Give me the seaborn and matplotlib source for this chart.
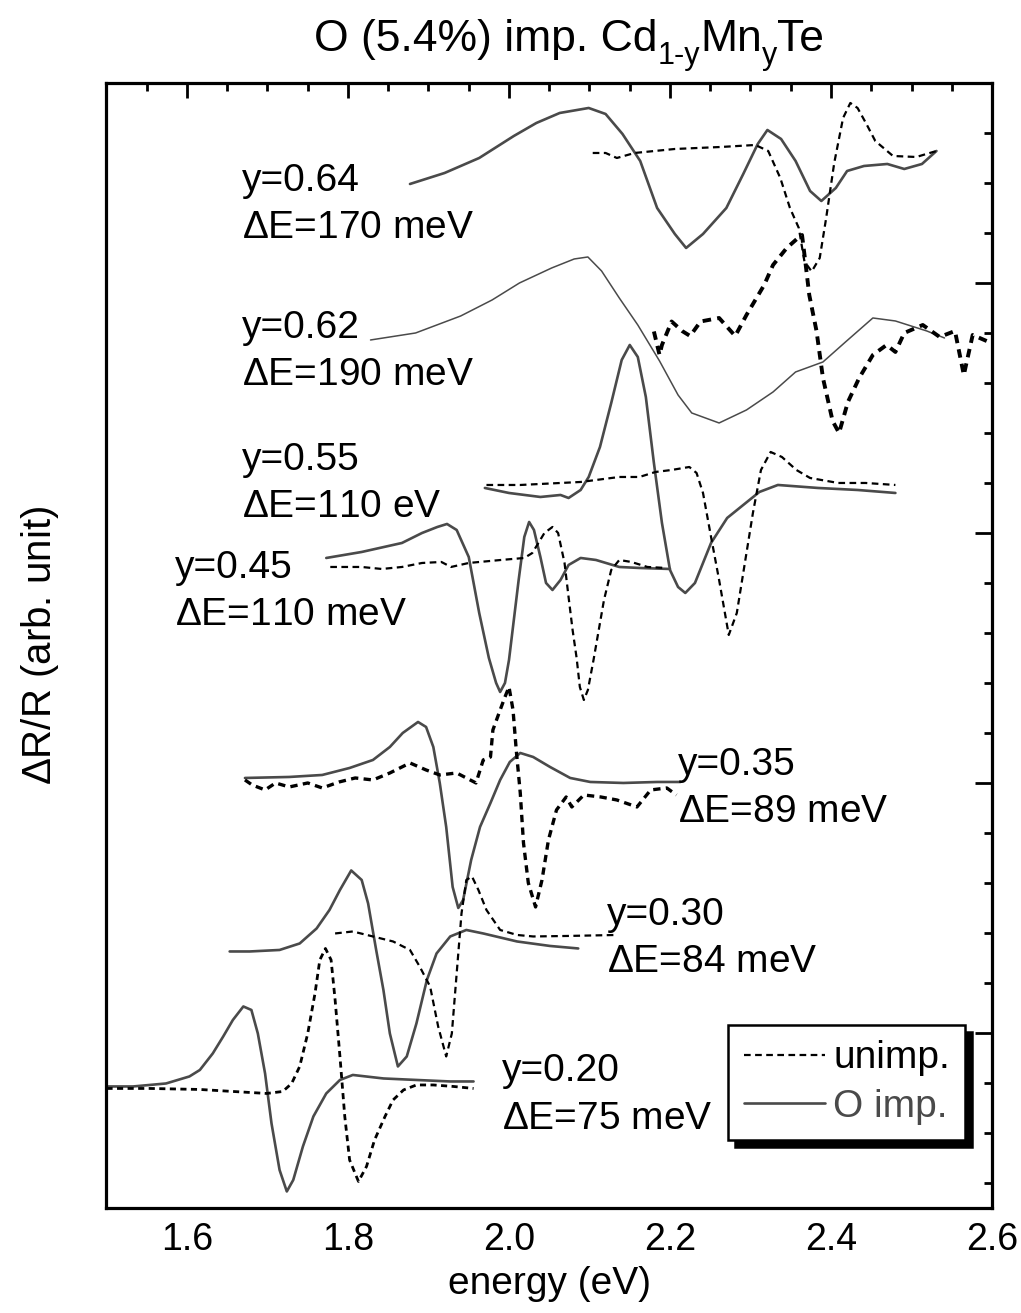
import numpy as np
import pandas as pd
import matplotlib
matplotlib.use("Agg")
import matplotlib.pyplot as plt
from matplotlib.lines import Line2D
from matplotlib.ticker import MultipleLocator
import seaborn as sns

# ---------------- data (energy in eV, signal in arb. units) ----------------
e_064_o = [1.877, 1.92, 1.963, 2.006, 2.034, 2.063, 2.099, 2.12, 2.141, 2.163, 2.184, 2.206, 2.22, 2.241,
           2.27, 2.291, 2.309, 2.321, 2.338, 2.356, 2.374, 2.388, 2.406, 2.42, 2.441, 2.47, 2.491, 2.513, 2.531]
s_064_o = [16.98, 17.2, 17.5, 17.94, 18.2, 18.4, 18.5, 18.38, 17.98, 17.44, 16.5, 15.98, 15.7, 15.98,
           16.5, 17.18, 17.78, 18.06, 17.88, 17.44, 16.84, 16.64, 16.9, 17.24, 17.34, 17.38, 17.28, 17.38, 17.64]
e_064_u = [2.104, 2.12, 2.134, 2.156, 2.206, 2.263, 2.306, 2.322, 2.337, 2.349, 2.36, 2.367, 2.376, 2.386,
           2.394, 2.404, 2.415, 2.424, 2.433, 2.444, 2.455, 2.477, 2.506, 2.531]
s_064_u = [17.6, 17.6, 17.5, 17.6, 17.68, 17.72, 17.76, 17.64, 17.1, 16.5, 16.1, 15.43, 15.23, 15.5,
           16.3, 17.4, 18.3, 18.6, 18.5, 18.18, 17.84, 17.54, 17.52, 17.64]

e_062_o = [1.828, 1.884, 1.940, 1.979, 2.013, 2.053, 2.081, 2.098, 2.115, 2.137, 2.160, 2.187, 2.210, 2.227,
           2.261, 2.295, 2.328, 2.356, 2.39, 2.418, 2.452, 2.48, 2.519, 2.541]
s_062_o = [13.86, 14.0, 14.34, 14.66, 15.0, 15.3, 15.48, 15.52, 15.24, 14.7, 14.16, 13.44, 12.76, 12.4,
           12.2, 12.46, 12.82, 13.22, 13.42, 13.82, 14.3, 14.24, 14.04, 13.9]
e_062_u = [2.18, 2.187, 2.19, 2.202, 2.215, 2.225, 2.238, 2.261, 2.281, 2.295, 2.306, 2.317, 2.328, 2.345,
           2.359, 2.364, 2.368, 2.373, 2.382, 2.39, 2.402, 2.41, 2.421, 2.435, 2.452, 2.469, 2.48, 2.491,
           2.514, 2.535, 2.554, 2.565, 2.576, 2.599]
s_062_u = [14.03, 13.56, 13.76, 14.23, 14.04, 13.94, 14.23, 14.3, 13.94, 14.36, 14.66, 14.96, 15.36, 15.7,
           15.9, 15.96, 15.44, 14.76, 14.04, 13.1, 12.24, 12.0, 12.62, 13.1, 13.56, 13.76, 13.62, 14.0,
           14.16, 13.92, 14.04, 13.16, 13.96, 13.8]

e_055_o = [1.970, 2.0, 2.039, 2.064, 2.074, 2.089, 2.099, 2.113, 2.127, 2.14, 2.15, 2.16, 2.17, 2.18,
           2.19, 2.2, 2.21, 2.219, 2.231, 2.251, 2.271, 2.291, 2.311, 2.334, 2.384, 2.433, 2.48]
s_055_o = [10.9, 10.8, 10.72, 10.76, 10.7, 10.86, 11.12, 11.72, 12.6, 13.46, 13.76, 13.52, 12.72, 11.4,
           10.2, 9.26, 8.92, 8.8, 9.0, 9.8, 10.3, 10.56, 10.82, 10.96, 10.9, 10.86, 10.8]
e_055_u = [1.972, 2.014, 2.064, 2.089, 2.137, 2.162, 2.182, 2.202, 2.224, 2.233, 2.241, 2.251, 2.261, 2.273,
           2.283, 2.293, 2.303, 2.313, 2.325, 2.339, 2.357, 2.374, 2.409, 2.443, 2.48]
s_055_u = [10.96, 10.96, 11.0, 11.02, 11.12, 11.12, 11.22, 11.26, 11.32, 11.2, 10.8, 9.92, 9.06, 7.96,
           8.4, 9.4, 10.4, 11.26, 11.62, 11.52, 11.26, 11.1, 11.0, 11.0, 10.96]

e_045_o = [1.773, 1.817, 1.867, 1.892, 1.911, 1.923, 1.935, 1.95, 1.963, 1.975, 1.984, 1.989, 1.995, 2.0,
           2.012, 2.019, 2.025, 2.031, 2.039, 2.046, 2.054, 2.064, 2.074, 2.089, 2.108, 2.137, 2.162, 2.2]
s_045_o = [9.5, 9.62, 9.8, 10.0, 10.12, 10.18, 10.06, 9.52, 8.4, 7.5, 7.0, 6.82, 7.0, 7.46,
           9.06, 9.92, 10.22, 10.06, 9.52, 9.0, 8.86, 9.06, 9.36, 9.5, 9.46, 9.32, 9.3, 9.28]
e_045_u = [1.778, 1.817, 1.842, 1.867, 1.892, 1.916, 1.928, 1.95, 1.99, 2.019, 2.029, 2.044, 2.054, 2.061,
           2.069, 2.074, 2.079, 2.084, 2.088, 2.093, 2.098, 2.105, 2.118, 2.127, 2.137, 2.152, 2.172, 2.195]
s_045_u = [9.32, 9.32, 9.28, 9.32, 9.4, 9.42, 9.32, 9.4, 9.46, 9.5, 9.6, 10.0, 10.12, 10.0,
           9.4, 8.72, 8.06, 7.5, 6.92, 6.66, 6.86, 7.46, 8.66, 9.26, 9.46, 9.42, 9.32, 9.3]

e_035_o = [1.672, 1.727, 1.768, 1.802, 1.831, 1.852, 1.868, 1.887, 1.897, 1.906, 1.914, 1.922, 1.93, 1.937,
           1.943, 1.953, 1.964, 1.977, 1.989, 2.001, 2.014, 2.03, 2.051, 2.076, 2.101, 2.142, 2.184, 2.213]
s_035_o = [5.1, 5.12, 5.16, 5.3, 5.46, 5.72, 6.0, 6.22, 6.12, 5.72, 5.0, 4.12, 2.92, 2.5,
           2.66, 3.46, 4.12, 4.6, 5.06, 5.42, 5.6, 5.52, 5.32, 5.1, 5.02, 5.0, 5.02, 5.02]
e_035_u = [1.672, 1.681, 1.697, 1.71, 1.727, 1.75, 1.768, 1.789, 1.809, 1.831, 1.852, 1.877, 1.897, 1.914,
           1.935, 1.959, 1.968, 1.977, 1.98, 1.989, 1.995, 2.0, 2.005, 2.009, 2.014, 2.018, 2.024, 2.033,
           2.041, 2.049, 2.059, 2.071, 2.078, 2.093, 2.114, 2.134, 2.159, 2.176, 2.196, 2.208]
s_035_u = [5.06, 4.96, 4.86, 5.0, 4.92, 5.0, 4.9, 5.02, 5.1, 5.06, 5.2, 5.4, 5.26, 5.16,
           5.2, 5.0, 5.46, 5.52, 6.06, 6.46, 6.72, 6.92, 6.46, 5.66, 4.8, 3.8, 3.0, 2.52,
           3.06, 3.86, 4.46, 4.72, 4.52, 4.76, 4.72, 4.66, 4.52, 4.86, 4.9, 4.76]

e_030_o = [1.653, 1.678, 1.715, 1.74, 1.761, 1.777, 1.79, 1.804, 1.817, 1.825, 1.835, 1.844, 1.852, 1.862,
           1.873, 1.885, 1.898, 1.91, 1.927, 1.947, 1.968, 2.01, 2.051, 2.086]
s_030_o = [1.63, 1.63, 1.66, 1.79, 2.09, 2.46, 2.86, 3.25, 3.06, 2.59, 1.66, 0.86, -0.01, -0.67,
           -0.47, 0.19, 1.06, 1.59, 1.93, 2.06, 1.99, 1.83, 1.74, 1.69]
e_030_u = [1.784, 1.806, 1.831, 1.856, 1.877, 1.889, 1.902, 1.912, 1.922, 1.929, 1.935, 1.941, 1.947, 1.954,
           1.962, 1.972, 1.989, 2.01, 2.03, 2.072, 2.134]
s_030_u = [1.99, 2.03, 1.93, 1.83, 1.66, 1.33, 0.93, 0.13, -0.47, -0.01, 1.19, 2.39, 3.06, 3.13,
           2.86, 2.46, 2.06, 1.96, 1.93, 1.94, 1.96]

e_020_o = [1.5, 1.533, 1.574, 1.603, 1.616, 1.632, 1.645, 1.657, 1.67, 1.68, 1.688, 1.697, 1.705, 1.715,
           1.724, 1.732, 1.744, 1.757, 1.773, 1.79, 1.806, 1.844, 1.885, 1.927, 1.956]
s_020_o = [-1.07, -1.07, -1.01, -0.87, -0.74, -0.41, -0.07, 0.26, 0.53, 0.46, -0.01, -0.81, -1.81, -2.74,
           -3.17, -2.94, -2.27, -1.67, -1.21, -0.94, -0.84, -0.91, -0.94, -0.97, -0.97]
e_020_u = [1.5, 1.554, 1.616, 1.657, 1.699, 1.719, 1.73, 1.74, 1.75, 1.759, 1.765, 1.772, 1.779, 1.784,
           1.79, 1.796, 1.802, 1.813, 1.823, 1.833, 1.846, 1.856, 1.869, 1.885, 1.906, 1.931, 1.956]
s_020_u = [-1.11, -1.11, -1.13, -1.17, -1.21, -1.17, -1.01, -0.67, -0.01, 0.79, 1.46, 1.69, 1.46, 0.66,
           -0.47, -1.67, -2.54, -2.97, -2.67, -2.14, -1.67, -1.34, -1.14, -1.04, -1.04, -1.07, -1.11]

x_ticks = [1.6, 1.8, 2.0, 2.2, 2.4, 2.6]
x_tick_labels = ["1.6", "1.8", "2.0", "2.2", "2.4", "2.6"]

label_line1 = ["y=0.64", "y=0.62", "y=0.55", "y=0.45", "y=0.35", "y=0.30", "y=0.20"]
label_line2 = ["$\\Delta$E=170 meV", "$\\Delta$E=190 meV", "$\\Delta$E=110 eV", "$\\Delta$E=110 meV",
               "$\\Delta$E=89 meV", "$\\Delta$E=84 meV", "$\\Delta$E=75 meV"]
label_x = [1.668, 1.668, 1.668, 1.585, 2.21, 2.122, 1.991]
label_base1 = [16.83, 13.89, 11.25, 9.09, 5.15, 2.15, -0.97]
label_base2 = [15.89, 12.95, 10.31, 8.15, 4.21, 1.21, -1.93]

title_parts = ["O (5.4%) imp. Cd", "1-y", "Mn", "y", "Te"]
title_is_sub = [False, True, False, True, False]

# ---------------- build long table ----------------
curves = [
    ("0.64", "O imp.", e_064_o, s_064_o), ("0.64", "unimp.", e_064_u, s_064_u),
    ("0.62", "O imp.", e_062_o, s_062_o), ("0.62", "unimp.", e_062_u, s_062_u),
    ("0.55", "O imp.", e_055_o, s_055_o), ("0.55", "unimp.", e_055_u, s_055_u),
    ("0.45", "O imp.", e_045_o, s_045_o), ("0.45", "unimp.", e_045_u, s_045_u),
    ("0.35", "O imp.", e_035_o, s_035_o), ("0.35", "unimp.", e_035_u, s_035_u),
    ("0.30", "O imp.", e_030_o, s_030_o), ("0.30", "unimp.", e_030_u, s_030_u),
    ("0.20", "O imp.", e_020_o, s_020_o), ("0.20", "unimp.", e_020_u, s_020_u),
]
frames = []
for y, kind, e, s in curves:
    frames.append(pd.DataFrame({"energy": e, "signal": s, "y": y, "kind": kind}))
df = pd.concat(frames, ignore_index=True)

# ---------------- style ----------------
sns.set_theme(style="white")
plt.rcParams['font.family'] = ['Liberation Sans', 'DejaVu Sans']
plt.rcParams['mathtext.fontset'] = 'custom'
plt.rcParams['mathtext.rm'] = 'Liberation Sans'
plt.rcParams['mathtext.it'] = 'Liberation Sans'
plt.rcParams['mathtext.sf'] = 'Liberation Sans'
for k in ['text.color', 'axes.labelcolor', 'xtick.color', 'ytick.color', 'xtick.labelcolor', 'ytick.labelcolor']:
    plt.rcParams[k] = 'black'

GRAY = "#4a4a4a"
FS = 28

W, H = 1021, 1313
fig = plt.figure(figsize=(W / 100, H / 100), dpi=100)
ax = fig.add_axes([0.1043, 0.080, 0.8673, 0.8568])

thin_solid = {"0.62": 1.1}
thick_dash = {"0.62": 2.8, "0.35": 2.4, "0.20": 2.0}

for (y, kind), sub in df.groupby(["y", "kind"], sort=False):
    if kind == "O imp.":
        sns.lineplot(data=sub, x="energy", y="signal", ax=ax, sort=False, estimator=None,
                     color=GRAY, linewidth=thin_solid.get(y, 1.9), legend=False)
    else:
        sns.lineplot(data=sub, x="energy", y="signal", ax=ax, sort=False, estimator=None,
                     color="black", linewidth=thick_dash.get(y, 1.6), legend=False)
        ln = ax.lines[-1]
        ln.set_linestyle((0, (2.2, 1.6)) if y in thick_dash else (0, (3, 2)))

for t1, t2, xx, b1, b2 in zip(label_line1, label_line2, label_x, label_base1, label_base2):
    ax.text(xx, b1, t1, fontsize=FS, ha="left", va="baseline", color="black")
    ax.text(xx, b2, t2, fontsize=FS, ha="left", va="baseline", color="black")

ax.set_xlim(1.5, 2.6)
ax.set_ylim(-3.5, 19.0)
ax.set_xticks(x_ticks)
ax.set_xticklabels(x_tick_labels)
ax.xaxis.set_minor_locator(MultipleLocator(0.05))
ax.yaxis.set_major_locator(MultipleLocator(5))
ax.yaxis.set_minor_locator(MultipleLocator(1))
ax.set_yticklabels([])
ax.tick_params(which="both", direction="in", top=True, right=True, width=2.0, color="black")
ax.tick_params(which="major", length=11, labelsize=27, pad=10)
ax.tick_params(which="minor", length=6)
ax.tick_params(axis="y", which="major", length=12)
for sp in ax.spines.values():
    sp.set_linewidth(2.3)
    sp.set_color("black")

ax.set_xlabel("energy (eV)", fontsize=FS, labelpad=6)
ax.set_ylabel("$\\Delta$R/R (arb. unit)", fontsize=29)
ax.yaxis.set_label_coords(-0.051, 0.5)

handles = [Line2D([], [], color="black", lw=1.6, ls=(0, (3, 2))),
           Line2D([], [], color=GRAY, lw=1.9)]
leg = ax.legend(handles, ["unimp.", "O imp."], loc="upper left", bbox_to_anchor=(0.702, 0.163),
                borderaxespad=0, fontsize=FS, frameon=True, fancybox=False, edgecolor="black",
                framealpha=1, handlelength=2.1, handletextpad=0.2, labelspacing=0.32,
                borderpad=0.4,
                shadow={"ox": 5, "oy": -5, "facecolor": "black", "edgecolor": "black", "alpha": 1})
leg.get_frame().set_linewidth(1.8)
leg.get_texts()[1].set_color(GRAY)

# ---------------- title with real (lowered) subscripts ----------------
fig.canvas.draw()
renderer = fig.canvas.get_renderer()
title_texts, widths = [], []
for part, sub in zip(title_parts, title_is_sub):
    t = fig.text(0, 0, part, fontsize=22 if sub else 32, ha="left", va="baseline", color="black")
    widths.append(t.get_window_extent(renderer=renderer).width)
    title_texts.append(t)
x_px = 569 - sum(widths) / 2
base_px = H - 51
for t, w, sub in zip(title_texts, widths, title_is_sub):
    t.set_position((x_px / W, (base_px - (13 if sub else 0)) / H))
    x_px += w

fig.savefig("out.png", dpi=100)
